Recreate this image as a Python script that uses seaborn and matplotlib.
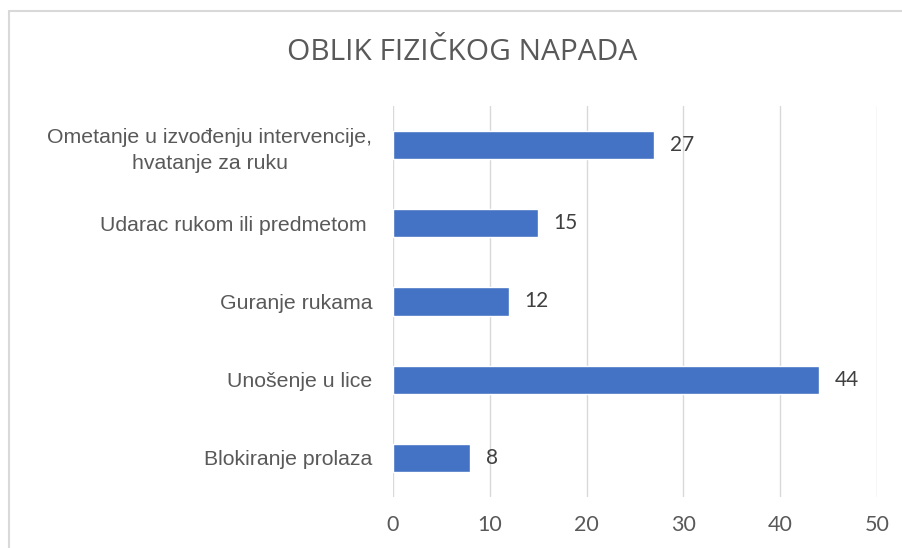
import matplotlib
matplotlib.use("Agg")
import matplotlib.pyplot as plt
import seaborn as sns
import pandas as pd
from matplotlib.patches import Rectangle

categories = [
    "Ometanje u izvođenju intervencije,\nhvatanje za ruku",
    "Udarac rukom ili predmetom ",
    "Guranje rukama",
    "Unošenje u lice",
    "Blokiranje prolaza",
]
values = [27, 15, 12, 44, 8]
x_ticks = [0, 10, 20, 30, 40, 50]

df = pd.DataFrame({"kategorija": categories, "broj": values})

sns.set_style("white")
fig = plt.figure(figsize=(9.02, 5.48), dpi=100)
ax = fig.add_axes([0.4357, 0.0931, 0.5366, 0.7135])

sns.barplot(data=df, y="kategorija", x="broj", orient="h", color="#4472C4",
            saturation=1, width=0.36, ax=ax)

ax.set_xlim(0, 50)
ax.set_ylim(4.5, -0.5)
ax.set_xticks(x_ticks)
ax.set_xticklabels([str(t) for t in x_ticks], fontsize=15.5, color="#595959",
                   family="Lato")
ax.set_yticks(range(len(categories)))
ax.set_yticklabels(categories, fontsize=15.3, color="#595959",
                   family="Liberation Sans", ha="right", multialignment="center",
                   linespacing=1.45)
ax.tick_params(axis="y", length=0, pad=15)
ax.tick_params(axis="x", length=0, pad=13)
ax.set_xlabel("")
ax.set_ylabel("")
ax.grid(axis="x", color="#D9D9D9", linewidth=1)
ax.set_axisbelow(True)
for s in ax.spines.values():
    s.set_visible(False)

for i, v in enumerate(values):
    ax.text(v + 1.6, i, str(v), va="center", ha="left", fontsize=15,
            color="#404040", family="Lato")

fig.text(0.512, 0.905, "OBLIK FIZIČKOG NAPADA", ha="center", va="center",
         fontsize=21.5, color="#595959", family="Open Sans")

fig.patches.append(Rectangle((9 / 902, -0.1), 1.2, 1 - 11.5 / 548 + 0.1,
                             transform=fig.transFigure, fill=False,
                             edgecolor="#D9D9D9", linewidth=1.5))

fig.savefig("out.png", dpi=100)
